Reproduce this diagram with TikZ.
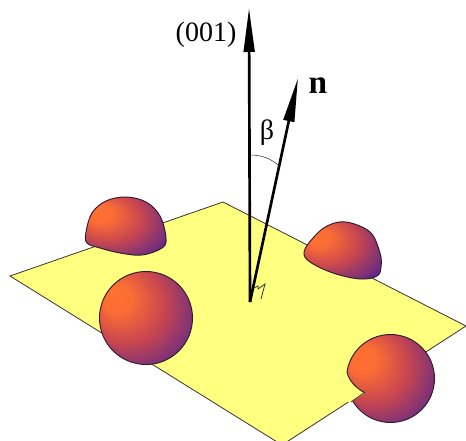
\documentclass[tikz,border=0pt]{standalone}
\usepackage{fontspec}
\setmainfont{Liberation Serif}
\usetikzlibrary{arrows.meta}
\definecolor{cplane}{RGB}{255,255,128}
\definecolor{cedge}{RGB}{60,50,50}
\definecolor{cball}{RGB}{50,25,45}
\definecolor{chot}{RGB}{255,112,50}
\definecolor{cmid}{RGB}{200,70,80}
\definecolor{cdeep}{RGB}{125,50,120}
\definecolor{ccold}{RGB}{50,15,170}
\pgfdeclareradialshading{ballshade}{\pgfpoint{-19bp}{13bp}}{%
  color(0bp)=(chot); color(8bp)=(chot!92!cmid); color(21bp)=(cmid); color(32bp)=(cdeep); color(43bp)=(ccold); color(50bp)=(ccold)}
\tikzset{
  plane/.style={fill=cplane, draw=cedge, line width=0.6pt},
  ball/.style={shading=ballshade, draw=cball, line width=0.7pt},
  vect/.style={-{Triangle[length=33pt, width=8pt]}, black, line width=2pt},
  thin line/.style={draw=black!80, line width=0.4pt},
  lab/.style={inner sep=0pt, font=\fontsize{21}{21}\selectfont},
}
\begin{document}
\begin{tikzpicture}[x=0.75pt, y=-0.75pt]
  \useasboundingbox (0,0) rectangle (466,441);
  \clip (0,0) rectangle (466,441);
  % plane
  \draw[plane] (223,202) -- (466,326) -- (282,445) -- (10,276) -- cycle;
  % half spheres on the plane
  \path[ball, draw] plot[smooth cycle, tension=0.6] coordinates {(100,248) (87,243) (86,232) (92,213) (106,201) (126,197) (146,202) (160,216) (166,238) (162,248) (142,255) (120,253)};
  \path[ball, draw] plot[smooth cycle, tension=0.6] coordinates {(304,252) (313,238) (327,226) (346,222) (370,232) (380,253) (381,267) (377,276) (360,279) (333,273) (310,262)};
  % full spheres
  \path[ball, draw] (146,318) circle[radius=46.5];
  \path[ball, draw] (390.5,378.5) circle[radius=44];
  % plane over the right sphere
  \fill[cplane] (347,372) .. controls (349,381) and (356,388) .. (365,393) -- (351,402) -- (330,402) -- (330,372) -- cycle;
  \draw[cball, line width=0.7pt] (347,372) .. controls (349,381) and (356,388) .. (365,393);
  \draw[cedge, line width=0.6pt] (365,392) -- (351,402);
  % vectors
  \coordinate (origin) at (250,302);
  \coordinate (axis) at (249,8);
  \coordinate (normal) at (298,78);
  \draw[vect] (origin) -- (axis);
  \draw[vect] (origin) -- (normal);
  % angle marks
  \draw[thin line] (250,155) .. controls (262,155) and (272,159) .. (279,166);
  \draw[thin line, line width=0.6pt] (254,288) -- (258,286) -- (258,289) -- (265,284) -- (261,299);
  % labels
  \node[lab] (axislab) at (206,35) {(001)};
  \node[lab, font=\fontsize{25}{25}\selectfont\bfseries] (normallab) at (318,86) {n};
  \node[lab] (betalab) at (267,133) {β};
\end{tikzpicture}
\end{document}
